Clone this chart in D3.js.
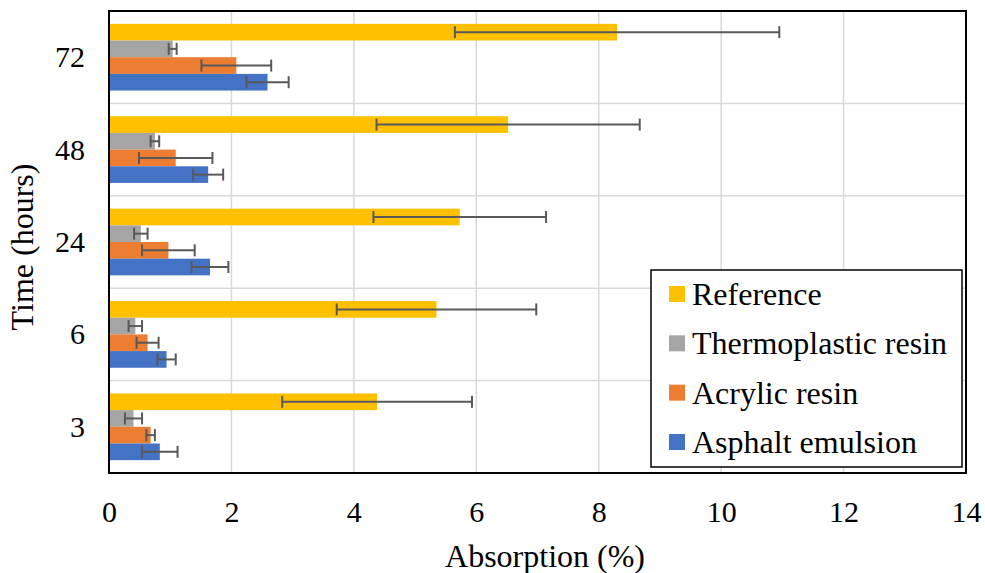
<!DOCTYPE html>
<html>
<head>
<meta charset="utf-8">
<script src="https://cdn.jsdelivr.net/npm/d3@7/dist/d3.min.js"></script>
<style>
  html, body { margin: 0; padding: 0; background: #fff; }
  svg { display: block; }
</style>
</head>
<body>
<svg id="chart" width="985" height="573" font-family="Liberation Serif"></svg>
<script>
// ---- Data ----
const categories = ["3", "6", "24", "48", "72"];              // Time (hours)
const seriesNames = ["Reference", "Thermoplastic resin", "Acrylic resin", "Asphalt emulsion"];
const seriesColors = ["#FFC000", "#A5A5A5", "#ED7D31", "#4472C4"];
// values per series, in order of categories
const referenceValues     = [4.38, 5.35, 5.73, 6.52, 8.30];
const thermoplasticValues = [0.40, 0.43, 0.52, 0.75, 1.04];
const acrylicValues       = [0.68, 0.63, 0.97, 1.09, 2.08];
const asphaltValues       = [0.83, 0.94, 1.65, 1.62, 2.59];
// error (± standard deviation)
const referenceErr     = [1.55, 1.63, 1.41, 2.15, 2.65];
const thermoplasticErr = [0.14, 0.11, 0.11, 0.07, 0.065];
const acrylicErr       = [0.07, 0.18, 0.43, 0.60, 0.57];
const asphaltErr       = [0.29, 0.15, 0.30, 0.245, 0.345];
const xTicks = [0, 2, 4, 6, 8, 10, 12, 14];

const seriesValues = [referenceValues, thermoplasticValues, acrylicValues, asphaltValues];
const seriesErrs = [referenceErr, thermoplasticErr, acrylicErr, asphaltErr];

// ---- Layout ----
const FONT = "Liberation Serif";
const svg = d3.select("#chart");
const mLeft = 109, mRight = 966, mTop = 11, mBottom = 473;
const tickFont = 30, titleFont = 32, legendFont = 32;

// anchor helper: keep text-anchor start, shift by measured width
function anchorText(sel, mode) {
  sel.attr("text-anchor", "start").each(function () {
    const w = this.getComputedTextLength();
    const x0 = +this.getAttribute("x") || 0;
    const shift = mode === "middle" ? w / 2 : mode === "end" ? w : 0;
    this.setAttribute("x", x0 - shift);
  });
}

const x = d3.scaleLinear().domain([0, 14]).range([mLeft, mRight]);
const y0 = d3.scaleBand().domain(categories.slice().reverse()).range([mTop, mBottom]).paddingInner(0).paddingOuter(0);
const y1 = d3.scaleBand().domain(seriesNames).range([0, y0.bandwidth()]).paddingInner(0).paddingOuter(0.77);

// gridlines
const grid = svg.append("g");
grid.selectAll("line.v").data(xTicks.filter(d => d > 0 && d < 14)).join("line")
  .attr("x1", d => x(d)).attr("x2", d => x(d)).attr("y1", mTop).attr("y2", mBottom)
  .attr("stroke", "#d9d9d9").attr("stroke-width", 1.5);
grid.selectAll("line.h").data(categories.slice().reverse().slice(1)).join("line")
  .attr("x1", mLeft).attr("x2", mRight).attr("y1", d => y0(d)).attr("y2", d => y0(d))
  .attr("stroke", "#d9d9d9").attr("stroke-width", 1.5);

// bars
const rows = [];
categories.forEach((c, ci) => {
  seriesNames.forEach((s, si) => {
    rows.push({ cat: c, series: s, color: seriesColors[si], v: seriesValues[si][ci], e: seriesErrs[si][ci] });
  });
});
svg.append("g").selectAll("rect").data(rows).join("rect")
  .attr("x", x(0))
  .attr("y", d => y0(d.cat) + y1(d.series))
  .attr("width", d => x(d.v) - x(0))
  .attr("height", y1.bandwidth())
  .attr("fill", d => d.color);

// error bars
const eg = svg.append("g").attr("stroke", "#595959").attr("stroke-width", 2);
const cap = 6;
rows.forEach(d => {
  const cy = y0(d.cat) + y1(d.series) + y1.bandwidth() / 2;
  eg.append("line").attr("x1", x(d.v - d.e)).attr("x2", x(d.v + d.e)).attr("y1", cy).attr("y2", cy);
  eg.append("line").attr("x1", x(d.v - d.e)).attr("x2", x(d.v - d.e)).attr("y1", cy - cap).attr("y2", cy + cap);
  eg.append("line").attr("x1", x(d.v + d.e)).attr("x2", x(d.v + d.e)).attr("y1", cy - cap).attr("y2", cy + cap);
});

// plot border
svg.append("rect").attr("x", mLeft).attr("y", mTop).attr("width", mRight - mLeft).attr("height", mBottom - mTop)
  .attr("fill", "none").attr("stroke", "#000").attr("stroke-width", 2);

// x axis
const xAxis = d3.axisBottom(x).tickValues(xTicks).tickSize(0).tickPadding(0);
const xg = svg.append("g").attr("transform", `translate(0,${mBottom})`).call(xAxis);
xg.attr("font-family", FONT).attr("font-size", tickFont).attr("text-anchor", "start");
xg.select(".domain").remove();
xg.selectAll("text").attr("font-family", FONT).attr("font-size", tickFont).attr("fill", "#000")
  .attr("dy", null).attr("y", 49).attr("x", 0);
anchorText(xg.selectAll("text"), "middle");

// y axis
const yAxis = d3.axisLeft(y0).tickSize(0).tickPadding(0);
const yg = svg.append("g").attr("transform", `translate(85,0)`).call(yAxis);
yg.attr("font-family", FONT).attr("font-size", tickFont).attr("text-anchor", "start");
yg.select(".domain").remove();
yg.selectAll("text").attr("font-family", FONT).attr("font-size", tickFont).attr("fill", "#000")
  .attr("dy", null).attr("y", 10).attr("x", 0);
anchorText(yg.selectAll("text"), "end");

// axis titles
const xTitle = svg.append("text").attr("x", 545).attr("y", 567)
  .attr("font-family", FONT).attr("font-size", titleFont).attr("fill", "#000").text("Absorption (%)");
anchorText(xTitle, "middle");
const yTitleG = svg.append("g").attr("transform", `translate(33,247) rotate(-90)`);
const yTitle = yTitleG.append("text").attr("x", 0).attr("y", 0)
  .attr("font-family", FONT).attr("font-size", titleFont).attr("fill", "#000").text("Time (hours)");
anchorText(yTitle, "middle");

// legend
const lg = svg.append("g");
lg.append("rect").attr("x", 651).attr("y", 270).attr("width", 311).attr("height", 197)
  .attr("fill", "#fff").attr("stroke", "#000").attr("stroke-width", 1.5);
const legendRow = d3.scalePoint().domain(seriesNames).range([294, 442]);
seriesNames.forEach((s, i) => {
  const cy = legendRow(s);
  lg.append("rect").attr("x", 669).attr("y", cy - 8).attr("width", 16).attr("height", 16).attr("fill", seriesColors[i]);
  lg.append("text").attr("x", 692).attr("y", cy + 11)
    .attr("font-family", FONT).attr("font-size", legendFont).attr("fill", "#000").text(s);
});
</script>
</body>
</html>
